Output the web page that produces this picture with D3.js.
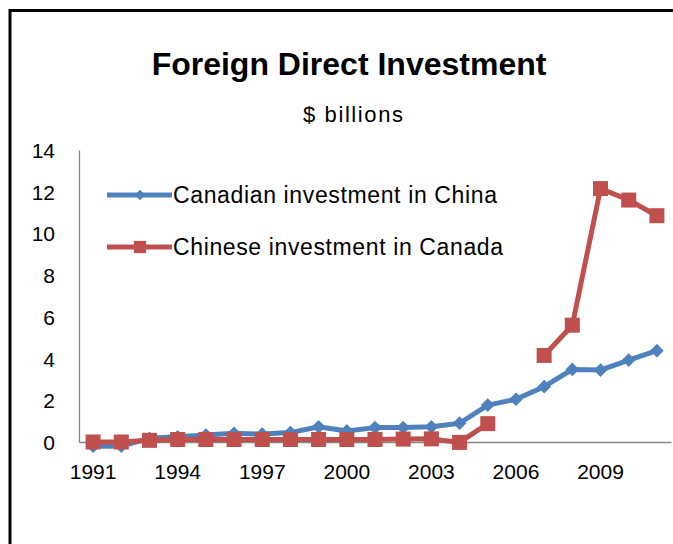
<!DOCTYPE html>
<html>
<head>
<meta charset="utf-8">
<script src="https://cdn.jsdelivr.net/npm/d3@7"></script>
<style>
body { margin: 0; background: #fff; }
text { font-family: "Liberation Sans", Arial, sans-serif; fill: #000; }
</style>
</head>
<body>
<div id="chart"></div>
<script>
var years = ['1991', '1992', '1993', '1994', '1995', '1996', '1997', '1998', '1999', '2000', '2001',
             '2002', '2003', '2004', '2005', '2006', '2007', '2008', '2009', '2010', '2011'];
var yearLabels = ['1991', '1994', '1997', '2000', '2003', '2006', '2009'];
var canadianInChina = [-0.2, -0.2, 0.18, 0.25, 0.33, 0.42, 0.38, 0.45, 0.73, 0.53, 0.69,
                       0.69, 0.73, 0.9, 1.77, 2.05, 2.65, 3.48, 3.45, 3.93, 4.38];
var chineseInCanada = [0, 0, 0.08, 0.12, 0.12, 0.12, 0.12, 0.12, 0.12, 0.12, 0.12,
                       0.14, 0.15, -0.02, 0.88, null, 4.15, 5.6, 12.15, 11.6, 10.85];
var yTicks = [0, 2, 4, 6, 8, 10, 12, 14];
var seriesNames = ['Canadian investment in China', 'Chinese investment in Canada'];
var blue = '#4f81bd', red = '#c0504d';

var width = 673, height = 544;

var svg = d3.select('#chart')
    .append('svg:svg')
    .attr('width', width)
    .attr('height', height);

svg.append('rect')
    .attr('width', width)
    .attr('height', height)
    .attr('fill', '#fff');

// outer frame, runs off the right and bottom edge like the picture
svg.append('rect')
    .attr('x', 10)
    .attr('y', 10.5)
    .attr('width', 800)
    .attr('height', 800)
    .attr('fill', 'none')
    .attr('stroke', '#000')
    .attr('stroke-width', 3);

svg.append('text')
    .attr('x', 349)
    .attr('y', 75)
    .attr('text-anchor', 'middle')
    .attr('font-size', 32)
    .attr('font-weight', 'bold')
    .text('Foreign Direct Investment');

svg.append('text')
    .attr('x', 303)
    .attr('y', 122)
    .attr('font-size', 22)
    .attr('textLength', 100)
    .attr('lengthAdjust', 'spacing')
    .text('$ billions');

var xScale = d3.scaleBand()
    .domain(years)
    .range([79, 671]);
var yScale = d3.scaleLinear()
    .domain([0, 14])
    .range([442, 150]);

function cx(d, i) { return xScale(years[i]) + xScale.bandwidth() / 2; }

// axes
var yAxis = svg.append('g')
    .attr('transform', 'translate(79,0)')
    .call(d3.axisLeft(yScale).tickValues(yTicks).tickSize(0).tickPadding(24));
var xAxis = svg.append('g')
    .attr('transform', 'translate(0,442)')
    .call(d3.axisBottom(xScale).tickValues(yearLabels).tickSize(0).tickPadding(22));

[yAxis, xAxis].forEach(function (ax) {
    ax.select('.domain').attr('stroke', '#868686').attr('stroke-width', 1.3);
    ax.selectAll('text')
        .attr('font-size', 21)
        .attr('font-family', '"Liberation Sans", Arial, sans-serif')
        .attr('fill', '#000');
});
yAxis.selectAll('text').attr('dy', '0.36em');

// lines
var line = d3.line()
    .defined(function (d) { return d !== null; })
    .x(cx)
    .y(function (d) { return yScale(d); });

svg.append('path')
    .datum(canadianInChina)
    .attr('d', line)
    .attr('fill', 'none')
    .attr('stroke', blue)
    .attr('stroke-width', 5)
    .attr('stroke-linejoin', 'round');

svg.append('path')
    .datum(chineseInCanada)
    .attr('d', line)
    .attr('fill', 'none')
    .attr('stroke', red)
    .attr('stroke-width', 5)
    .attr('stroke-linejoin', 'round');

var diamond = d3.symbol().type(d3.symbolDiamond2).size(120);

svg.append('g').selectAll('.ca')
    .data(canadianInChina)
    .enter().append('path')
    .attr('class', 'ca')
    .attr('d', diamond)
    .attr('fill', blue)
    .attr('transform', function (d, i) {
        return 'translate(' + cx(d, i) + ',' + yScale(d) + ')';
    });

svg.append('g').selectAll('.cn')
    .data(chineseInCanada.map(function (d, i) { return {v: d, i: i}; })
        .filter(function (d) { return d.v !== null; }))
    .enter().append('rect')
    .attr('class', 'cn')
    .attr('x', function (d) { return cx(d.v, d.i) - 7.5; })
    .attr('y', function (d) { return yScale(d.v) - 7.5; })
    .attr('width', 15)
    .attr('height', 15)
    .attr('fill', red);

// legend
var legendY = [195, 247];
var legend = svg.append('g').selectAll('.legend')
    .data(seriesNames)
    .enter().append('g')
    .attr('class', 'legend')
    .attr('transform', function (d, i) { return 'translate(0,' + legendY[i] + ')'; });

legend.append('line')
    .attr('x1', 107)
    .attr('x2', 172)
    .attr('stroke', function (d, i) { return i === 0 ? blue : red; })
    .attr('stroke-width', 5);

legend.append('path')
    .attr('d', function (d, i) {
        return i === 0 ? d3.symbol().type(d3.symbolDiamond2).size(70)()
                       : d3.symbol().type(d3.symbolSquare).size(150)();
    })
    .attr('transform', 'translate(140,0)')
    .attr('fill', function (d, i) { return i === 0 ? blue : red; });

legend.append('text')
    .attr('x', 173)
    .attr('dy', '0.36em')
    .attr('font-size', 23)
    .attr('textLength', function (d, i) { return i === 0 ? 324 : 330; })
    .attr('lengthAdjust', 'spacing')
    .text(function (d) { return d; });
</script>
</body>
</html>
